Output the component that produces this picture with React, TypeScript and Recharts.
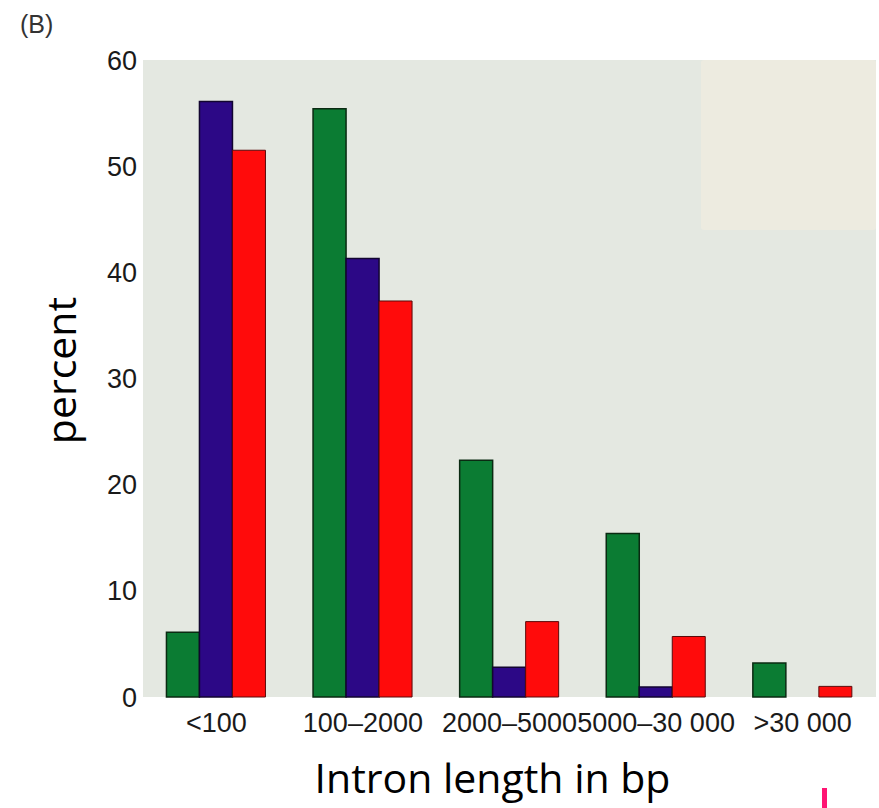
import React from "react";
import { BarChart, Bar, XAxis, YAxis, ReferenceArea } from "recharts";

const categories = ["<100", "100–2000", "2000–5000", "5000–30 000", ">30 000"];
const greenValues = [6.1, 55.4, 22.3, 15.4, 3.2];
const purpleValues = [56.1, 41.3, 2.8, 0.95, 0];
const redValues = [51.5, 37.3, 7.1, 5.7, 1.0];
const yTicks = [0, 10, 20, 30, 40, 50, 60];

const data = categories.map((c, i) => ({
  category: c,
  green: greenValues[i],
  purple: purpleValues[i],
  red: redValues[i],
}));

const XTitle = (props: any) => {
  const vb = props.viewBox || {};
  return (
    <text
      x={vb.x + vb.width / 2 - 17}
      y={vb.y + 96}
      textAnchor="middle"
      fontFamily="'Open Sans', sans-serif"
      fontSize={41}
      fill="#000"
    >
      Intron length in bp
    </text>
  );
};

const YTitle = (props: any) => {
  const vb = props.viewBox || {};
  const cx = 76;
  const cy = vb.y + vb.height / 2 - 8;
  return (
    <text
      x={cx}
      y={cy}
      transform={`rotate(-90 ${cx} ${cy})`}
      textAnchor="middle"
      fontFamily="'Open Sans', sans-serif"
      fontSize={41}
      fill="#000"
    >
      percent
    </text>
  );
};

export default function App() {
  return (
    <div style={{ position: "absolute", left: 0, top: 0, width: 879, height: 808, background: "#fff" }}>
      <BarChart
        width={879}
        height={808}
        data={data}
        margin={{ top: 60, right: 3, bottom: 0, left: 0 }}
        barCategoryGap="16%"
        barGap={0}
      >
        <ReferenceArea y1={0} y2={60} fill="#e4e8e1" fillOpacity={1} stroke="none" ifOverflow="visible" />
        <XAxis
          dataKey="category"
          height={111}
          axisLine={false}
          tickLine={false}
          tickSize={0}
          tickMargin={16}
          interval={0}
          tick={{ fontFamily: "'Liberation Sans', Arial, sans-serif", fontSize: 27, fill: "#1a1a1a" }}
          label={<XTitle />}
        />
        <YAxis
          width={143}
          domain={[0, 60]}
          ticks={yTicks}
          axisLine={false}
          tickLine={false}
          tickSize={0}
          tickMargin={6}
          interval={0}
          tick={{ fontFamily: "'Liberation Sans', Arial, sans-serif", fontSize: 27, fill: "#1a1a1a" }}
          label={<YTitle />}
        />
        <Bar dataKey="green" fill="#0b7c33" stroke="#0a2a12" strokeWidth={1.5} isAnimationActive={false} />
        <Bar dataKey="purple" fill="#2c0886" stroke="#120530" strokeWidth={1.5} isAnimationActive={false} />
        <Bar dataKey="red" fill="#ff0b0b" stroke="#5a0a0a" strokeWidth={1} isAnimationActive={false} />
      </BarChart>
      <div
        style={{
          position: "absolute",
          left: 701,
          top: 60,
          width: 175,
          height: 170,
          background: "#edebe0",
          borderRadius: 3,
        }}
      />
      <div
        style={{
          position: "absolute",
          left: 20,
          top: 9,
          fontFamily: "'Liberation Sans', Arial, sans-serif",
          fontSize: 25,
          color: "#333",
          lineHeight: "30px",
        }}
      >
        (B)
      </div>
      <div
        style={{
          position: "absolute",
          left: 822,
          top: 788,
          width: 5,
          height: 20,
          background: "#ff1473",
        }}
      />
    </div>
  );
}
